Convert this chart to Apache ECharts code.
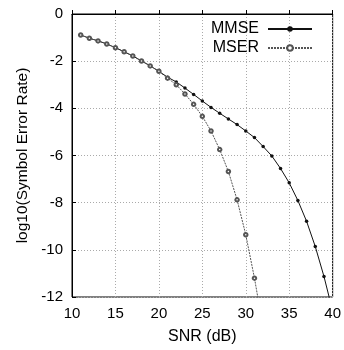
<!DOCTYPE html>
<html>
<head>
<meta charset="utf-8" />
<script src="https://cdn.jsdelivr.net/npm/echarts@6/dist/echarts.min.js"></script>
<style>html,body{margin:0;padding:0;background:#fff;}</style>
</head>
<body>
<div id="chartmain" style="width:344px; height:350px;"></div>
<script>
// SNR in dB (last point of each curve falls below the plot)
var snrMMSE = [11,12,13,14,15,16,17,18,19,20,21,22,23,24,25,26,27,28,29,30,31,32,33,34,35,36,37,38,39,40];
var serMMSE = [-0.89,-1.03,-1.14,-1.27,-1.43,-1.60,-1.78,-1.99,-2.20,-2.43,-2.68,-2.88,-3.14,-3.41,-3.69,-3.96,-4.21,-4.45,-4.69,-4.96,-5.24,-5.62,-6.02,-6.55,-7.16,-7.91,-8.79,-9.86,-11.13,-12.6];
var snrMSER = [11,12,13,14,15,16,17,18,19,20,21,22,23,24,25,26,27,28,29,30,31,32];
var serMSER = [-0.89,-1.03,-1.14,-1.27,-1.43,-1.60,-1.78,-1.99,-2.20,-2.43,-2.72,-3.00,-3.39,-3.83,-4.34,-4.96,-5.75,-6.68,-7.88,-9.36,-11.2,-13.3];

function pairs(xs, ys) {
  var out = [];
  for (var i = 0; i < xs.length; i++) out.push([xs[i], ys[i]]);
  return out;
}

var font = 'Liberation Sans';
option = {
  animation: false,
  textStyle: { fontFamily: font, color: '#000' },
  grid: { left: 72, right: 8, top: 14, bottom: 53, show: true, borderColor: '#000', borderWidth: 1 },
  legend: {
    right: 26, top: 16,
    orient: 'vertical',
    align: 'right',
    itemWidth: 44, itemHeight: 7, itemGap: 3,
    textStyle: { fontFamily: font, fontSize: 16, color: '#000', padding: [0, 4, 0, 0] },
    data: ['MMSE', 'MSER']
  },
  xAxis: {
    type: 'value', min: 10, max: 40, interval: 5,
    name: 'SNR (dB)', nameLocation: 'middle', nameGap: 32,
    nameTextStyle: { fontFamily: font, fontSize: 16, color: '#000' },
    axisLine: { lineStyle: { color: '#000' } },
    axisTick: { inside: true, length: 4, lineStyle: { color: '#000' } },
    axisLabel: { fontFamily: font, fontSize: 15, color: '#000', margin: 9, showMaxLabel: true },
    splitLine: { lineStyle: { color: '#aaa', type: [1, 2] } }
  },
  yAxis: {
    type: 'value', min: -12, max: 0, interval: 2,
    name: 'log10(Symbol Error Rate)', nameLocation: 'middle', nameGap: 40,
    nameTextStyle: { fontFamily: font, fontSize: 15.5, color: '#000' },
    axisLine: { lineStyle: { color: '#000' } },
    axisTick: { inside: true, length: 4, lineStyle: { color: '#000' } },
    axisLabel: { fontFamily: font, fontSize: 15, color: '#000', margin: 9 },
    splitLine: { lineStyle: { color: '#aaa', type: [1, 2] } }
  },
  series: [
    {
      name: 'MMSE', type: 'line', data: pairs(snrMMSE, serMMSE),
      symbol: 'circle', symbolSize: 3.5, clip: true,
      lineStyle: { color: '#111', width: 1 },
      itemStyle: { color: '#111' }
    },
    {
      name: 'MSER', type: 'line', data: pairs(snrMSER, serMSER),
      symbol: 'emptyCircle', symbolSize: 3.5, clip: true,
      lineStyle: { color: '#555', width: 1, type: [2, 1] },
      itemStyle: { color: '#555', borderWidth: 1 }
    }
  ]
};
var myChart = echarts.init(document.getElementById('chartmain'));
myChart.setOption(option);
</script>
</body>
</html>
